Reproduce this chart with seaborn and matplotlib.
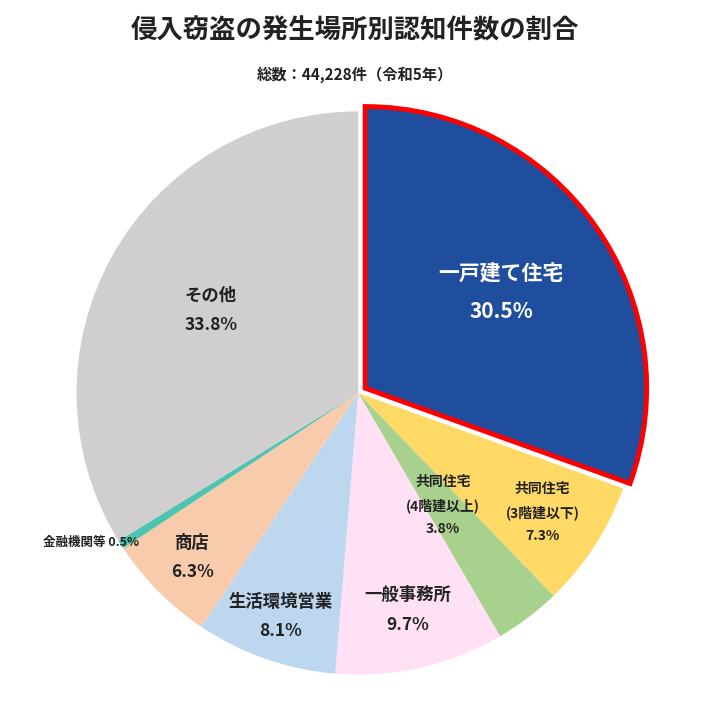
import matplotlib
matplotlib.use("Agg")
import matplotlib.pyplot as plt
import seaborn as sns
import numpy as np

sns.set_theme(style="white")
plt.rcParams["font.family"] = "Noto Sans CJK JP"

categories = ["一戸建て住宅", "共同住宅\n(3階建以下)", "共同住宅\n(4階建以上)", "一般事務所",
              "生活環境営業", "商店", "金融機関等", "その他"]
values = [30.5, 7.3, 3.8, 9.7, 8.1, 6.3, 0.5, 33.8]
colors = ["#1F4E9E", "#FFD966", "#A9D18E", "#FFE0F5", "#BDD7EE", "#F8CBAD", "#4DC3B0", "#D0CECE"]
label_r = [0.62, 0.78, 0.50, 0.79, 0.84, 0.83, 0.0, 0.60]

fig = plt.figure(figsize=(7.1, 7.1), dpi=100)
ax = fig.add_axes([0.096, 0.038, 0.817, 0.817])
explode = [0.03] + [0] * (len(values) - 1)
wedges, _ = ax.pie(values, colors=colors, startangle=90, counterclock=False,
                   explode=explode, radius=1.0,
                   wedgeprops=dict(linewidth=0))
wedges[0].set_edgecolor("#FF0000")
wedges[0].set_linewidth(3.5)
wedges[0].set_zorder(5)
ax.set_xlim(-1.03, 1.03)
ax.set_ylim(-1.03, 1.03)
ax.set_aspect("equal")

for i, (w, cat, v) in enumerate(zip(wedges, categories, values)):
    ang = np.deg2rad((w.theta1 + w.theta2) / 2)
    if cat == "金融機関等":
        ax.text(-0.78, -0.53, f"{cat} {v}%", ha="right", va="center", fontsize=9, fontweight="bold", color="#222222")
        continue
    r = label_r[i]
    x, y = r * np.cos(ang), r * np.sin(ang)
    if i == 0:
        ax.text(x, y, f"{cat}\n{v}%", ha="center", va="center", fontsize=15, fontweight="bold",
                color="white", linespacing=2.0, zorder=6)
    elif "\n" in cat:
        ax.text(x, y, f"{cat}\n{v}%", ha="center", va="center", fontsize=10, fontweight="bold",
                color="#222222", linespacing=1.8)
    else:
        ax.text(x, y, f"{cat}\n{v}%", ha="center", va="center", fontsize=12.5, fontweight="bold",
                color="#222222", linespacing=1.8)

fig.text(0.5, 0.957, "侵入窃盗の発生場所別認知件数の割合", ha="center", va="center",
         fontsize=19, fontweight="bold", color="#222222")
fig.text(0.5, 0.895, "総数：44,228件（令和5年）", ha="center", va="center",
         fontsize=11, fontweight="bold", color="#222222")
fig.savefig("out.png", dpi=100, facecolor="white")
